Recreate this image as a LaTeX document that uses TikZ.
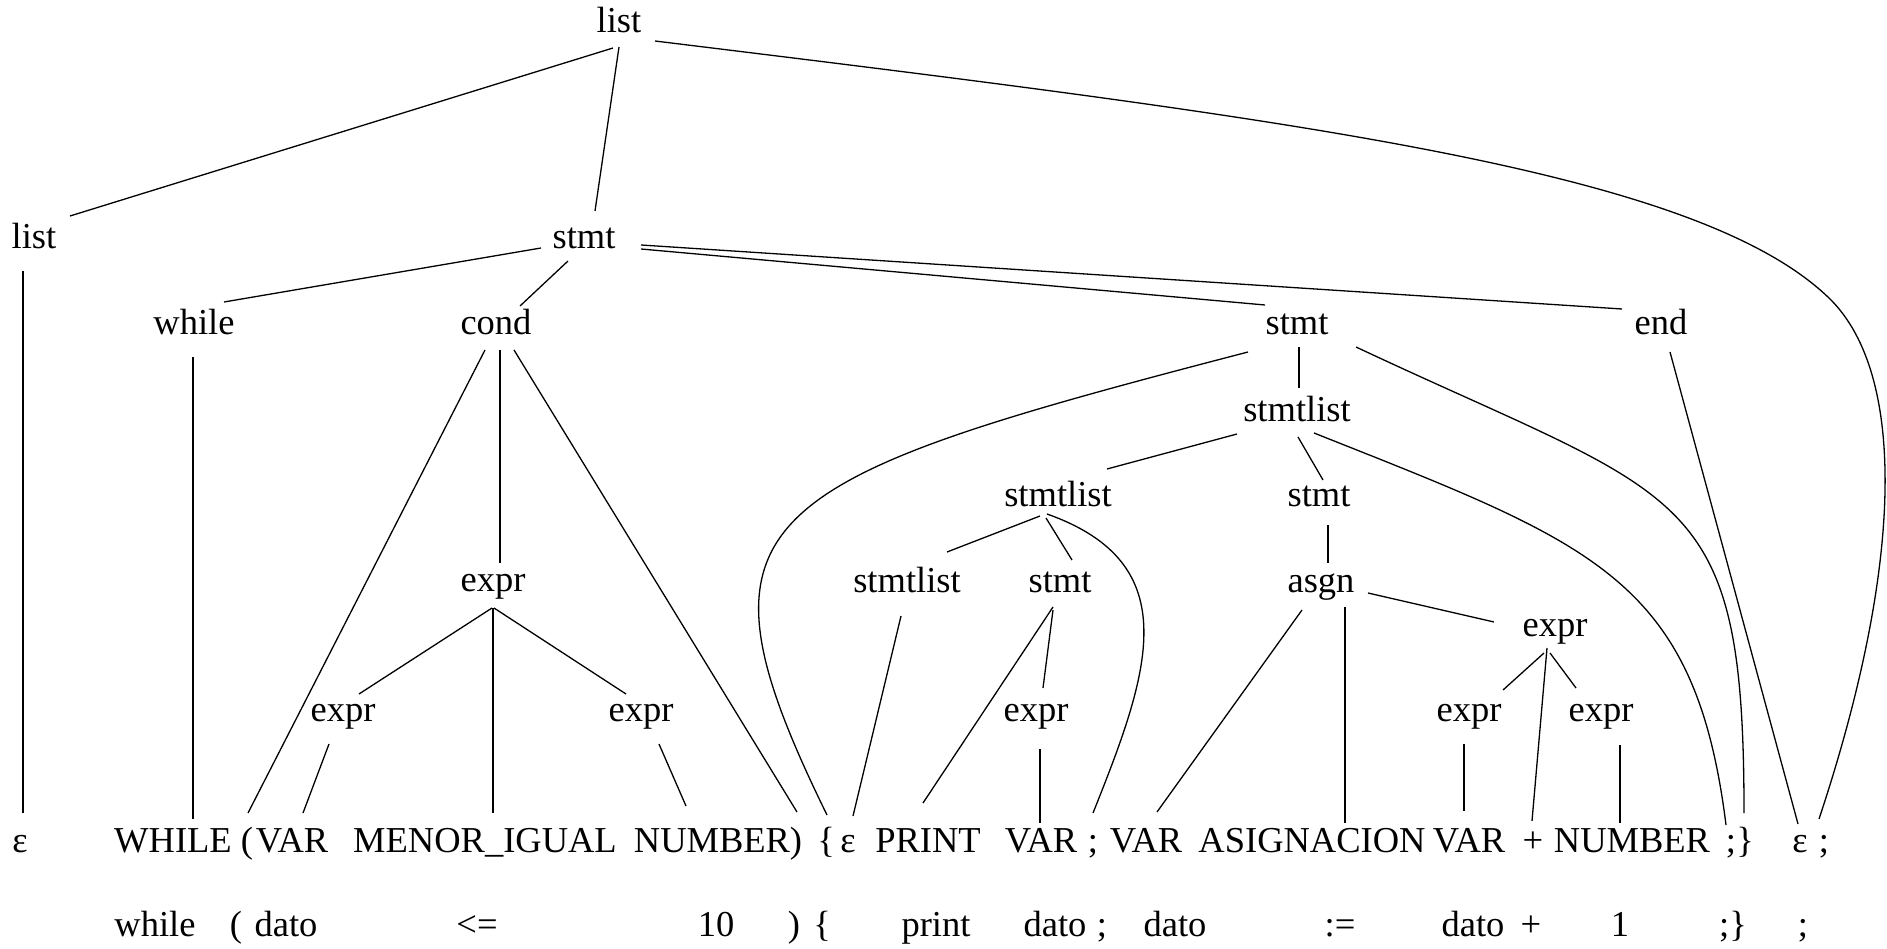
\documentclass[tikz,border=0pt]{standalone}
\usepackage{fontspec}
\setmainfont{Liberation Serif}
\usetikzlibrary{calc}
\begin{document}
\begin{tikzpicture}[x=1pt,y=-1pt,
  every node/.style={inner sep=0pt,anchor=base,font=\fontsize{36.5}{44}\selectfont},
  edge/.style={line width=1.3pt}]
\useasboundingbox (0,0) rectangle (1887,949);
% nonterminals
\node (Ltop)  at (619,33)  {list};
\node (Lleft) at (34,249)  {list};
\node (S1)    at (584,249) {stmt};
\node (W)     at (194,335) {while};
\node (C)     at (496,335) {cond};
\node (S2)    at (1297,335) {stmt};
\node (E)     at (1661,335) {end};
\node (SL1)   at (1297,421) {stmtlist};
\node (SL2)   at (1058,506) {stmtlist};
\node (S3)    at (1319,506) {stmt};
\node (X1)    at (493,591) {expr};
\node (SL3)   at (907,592) {stmtlist};
\node (S4)    at (1060,592) {stmt};
\node (A)     at (1321,592) {asgn};
\node (X5)    at (1555,636) {expr};
\node (X2)    at (343,721) {expr};
\node (X3)    at (641,721) {expr};
\node (X4)    at (1036,721) {expr};
\node (X6)    at (1469,721) {expr};
\node (X7)    at (1601,721) {expr};
% terminals
\node (eps1)  at (20,852)   {ε};
\node (WHILE) at (173,852)  {WHILE};
\node (lp)    at (247,852)  {(};
\node (VAR1)  at (292,852)  {VAR};
\node (MENOR) at (485,852)  {MENOR\_IGUAL};
\node (NUM1)  at (712,852)  {NUMBER};
\node (rp)    at (796,852)  {)};
\node (lb)    at (826,852)  {\{};
\node (eps2)  at (848,852)  {ε};
\node (PRINT) at (928,852)  {PRINT};
\node (VAR2)  at (1041,852) {VAR};
\node (semi1) at (1093,852) {;};
\node (VAR3)  at (1146,852) {VAR};
\node (ASIG)  at (1312,852) {ASIGNACION};
\node (VAR4)  at (1469,852) {VAR};
\node (plus)  at (1533,852) {+};
\node (NUM2)  at (1632,852) {NUMBER};
\node (semi2) at (1731,852) {;};
\node (rb)    at (1745,852) {\}};
\node (eps3)  at (1800,852) {ε};
\node (semi3) at (1824,852) {;};
% lexemes
\node (lwhile) at (155,936)  {while};
\node (llp)    at (236,936)  {(};
\node (ldato1) at (286,936)  {dato};
\node (lle)    at (477,936)  {<=};
\node (lten)   at (716,936)  {10};
\node (lrp)    at (794,936)  {)};
\node (llb)    at (822,936)  {\{};
\node (lprint) at (936,936)  {print};
\node (ldato2) at (1055,936) {dato};
\node (lsemi1) at (1102,936) {;};
\node (ldato3) at (1175,936) {dato};
\node (lasg)   at (1340,936) {:=};
\node (ldato4) at (1473,936) {dato};
\node (lplus)  at (1531,936) {+};
\node (lone)   at (1620,936) {1};
\node (lsemi2) at (1733,936) {;\}};
\node (lsemi3) at (1803,936) {;};
\coordinate (bend) at (1831,300);
% edges
\draw[edge] ($(Ltop.base)+(-6,15)$) -- ($(Lleft.base)+(36,-33)$);
\draw[edge] ($(Ltop.base)+(0,14)$) -- ($(S1.base)+(11,-38)$);
\draw[edge] ($(Ltop.base)+(36,8)$) .. controls +(645,79) and +(-131,-130) .. (bend)
   .. controls +(74,75) and +(86,-259) .. ($(semi3.base)+(-5,-33)$);
\draw[edge] ($(Lleft.base)+(-11,22)$) -- ($(eps1.base)+(3,-39)$);
\draw[edge] ($(S1.base)+(-43,-1)$) -- ($(W.base)+(30,-33)$);
\draw[edge] ($(S1.base)+(-16,12)$) -- ($(C.base)+(24,-29)$);
\draw[edge] ($(S1.base)+(57,0)$) -- ($(S2.base)+(-32,-30)$);
\draw[edge] ($(S1.base)+(57,-4)$) -- ($(E.base)+(-39,-26)$);
\draw[edge] ($(W.base)+(-1,22)$) -- ($(WHILE.base)+(20,-33)$);
\draw[edge] ($(C.base)+(-11,15)$) -- ($(lp.base)+(1,-39)$);
\draw[edge] ($(C.base)+(4,15)$) -- ($(X1.base)+(7,-28)$);
\draw[edge] ($(C.base)+(18,15)$) -- ($(rp.base)+(1,-40)$);
\draw[edge] ($(X1.base)+(-1,17)$) -- ($(X2.base)+(16,-27)$);
\draw[edge] ($(X1.base)+(0,17)$) -- ($(MENOR.base)+(8,-39)$);
\draw[edge] ($(X1.base)+(1,17)$) -- ($(X3.base)+(-15,-27)$);
\draw[edge] ($(X2.base)+(-14,23)$) -- ($(VAR1.base)+(11,-39)$);
\draw[edge] ($(X3.base)+(18,23)$) -- ($(NUM1.base)+(-26,-46)$);
\draw[edge] ($(S2.base)+(-49,17)$) .. controls +(-500,130) and +(-147,-300) .. ($(lb.base)+(1,-37)$);
\draw[edge] ($(S2.base)+(2,12)$) -- ($(SL1.base)+(2,-33)$);
\draw[edge] ($(S2.base)+(59,12)$) .. controls +(330,155) and +(0,-330) .. ($(rb.base)+(-1,-39)$);
\draw[edge] ($(E.base)+(9,17)$) -- ($(eps3.base)+(-2,-28)$);
\draw[edge] ($(SL1.base)+(-60,13)$) -- ($(SL2.base)+(49,-37)$);
\draw[edge] ($(SL1.base)+(1,16)$) -- ($(S3.base)+(4,-26)$);
\draw[edge] ($(SL1.base)+(17,12)$) .. controls +(279,111) and +(-31,-248) .. ($(semi2.base)+(-5,-27)$);
\draw[edge] ($(SL2.base)+(-18,10)$) -- ($(SL3.base)+(40,-40)$);
\draw[edge] ($(SL2.base)+(-12,12)$) -- ($(S4.base)+(12,-32)$);
\draw[edge] ($(SL2.base)+(-11,8)$) .. controls +(141,50) and +(56,-140) .. ($(semi1.base)+(0,-39)$);
\draw[edge] ($(SL3.base)+(-6,24)$) -- ($(eps2.base)+(5,-36)$);
\draw[edge] ($(S4.base)+(-7,15)$) -- ($(PRINT.base)+(-5,-49)$);
\draw[edge] ($(S4.base)+(-7,18)$) -- ($(X4.base)+(7,-33)$);
\draw[edge] ($(X4.base)+(4,28)$) -- ($(VAR2.base)+(-1,-29)$);
\draw[edge] ($(S3.base)+(9,19)$) -- ($(A.base)+(7,-29)$);
\draw[edge] ($(A.base)+(-19,18)$) -- ($(VAR3.base)+(11,-40)$);
\draw[edge] ($(A.base)+(24,15)$) -- ($(ASIG.base)+(33,-29)$);
\draw[edge] ($(A.base)+(47,1)$) -- ($(X5.base)+(-61,-14)$);
\draw[edge] ($(X5.base)+(-11,17)$) -- ($(X6.base)+(34,-31)$);
\draw[edge] ($(X5.base)+(-8,12)$) -- ($(plus.base)+(-1,-31)$);
\draw[edge] ($(X5.base)+(-5,17)$) -- ($(X7.base)+(-25,-33)$);
\draw[edge] ($(X6.base)+(-5,23)$) -- ($(VAR4.base)+(-5,-41)$);
\draw[edge] ($(X7.base)+(19,24)$) -- ($(NUM2.base)+(-12,-29)$);
\end{tikzpicture}
\end{document}
